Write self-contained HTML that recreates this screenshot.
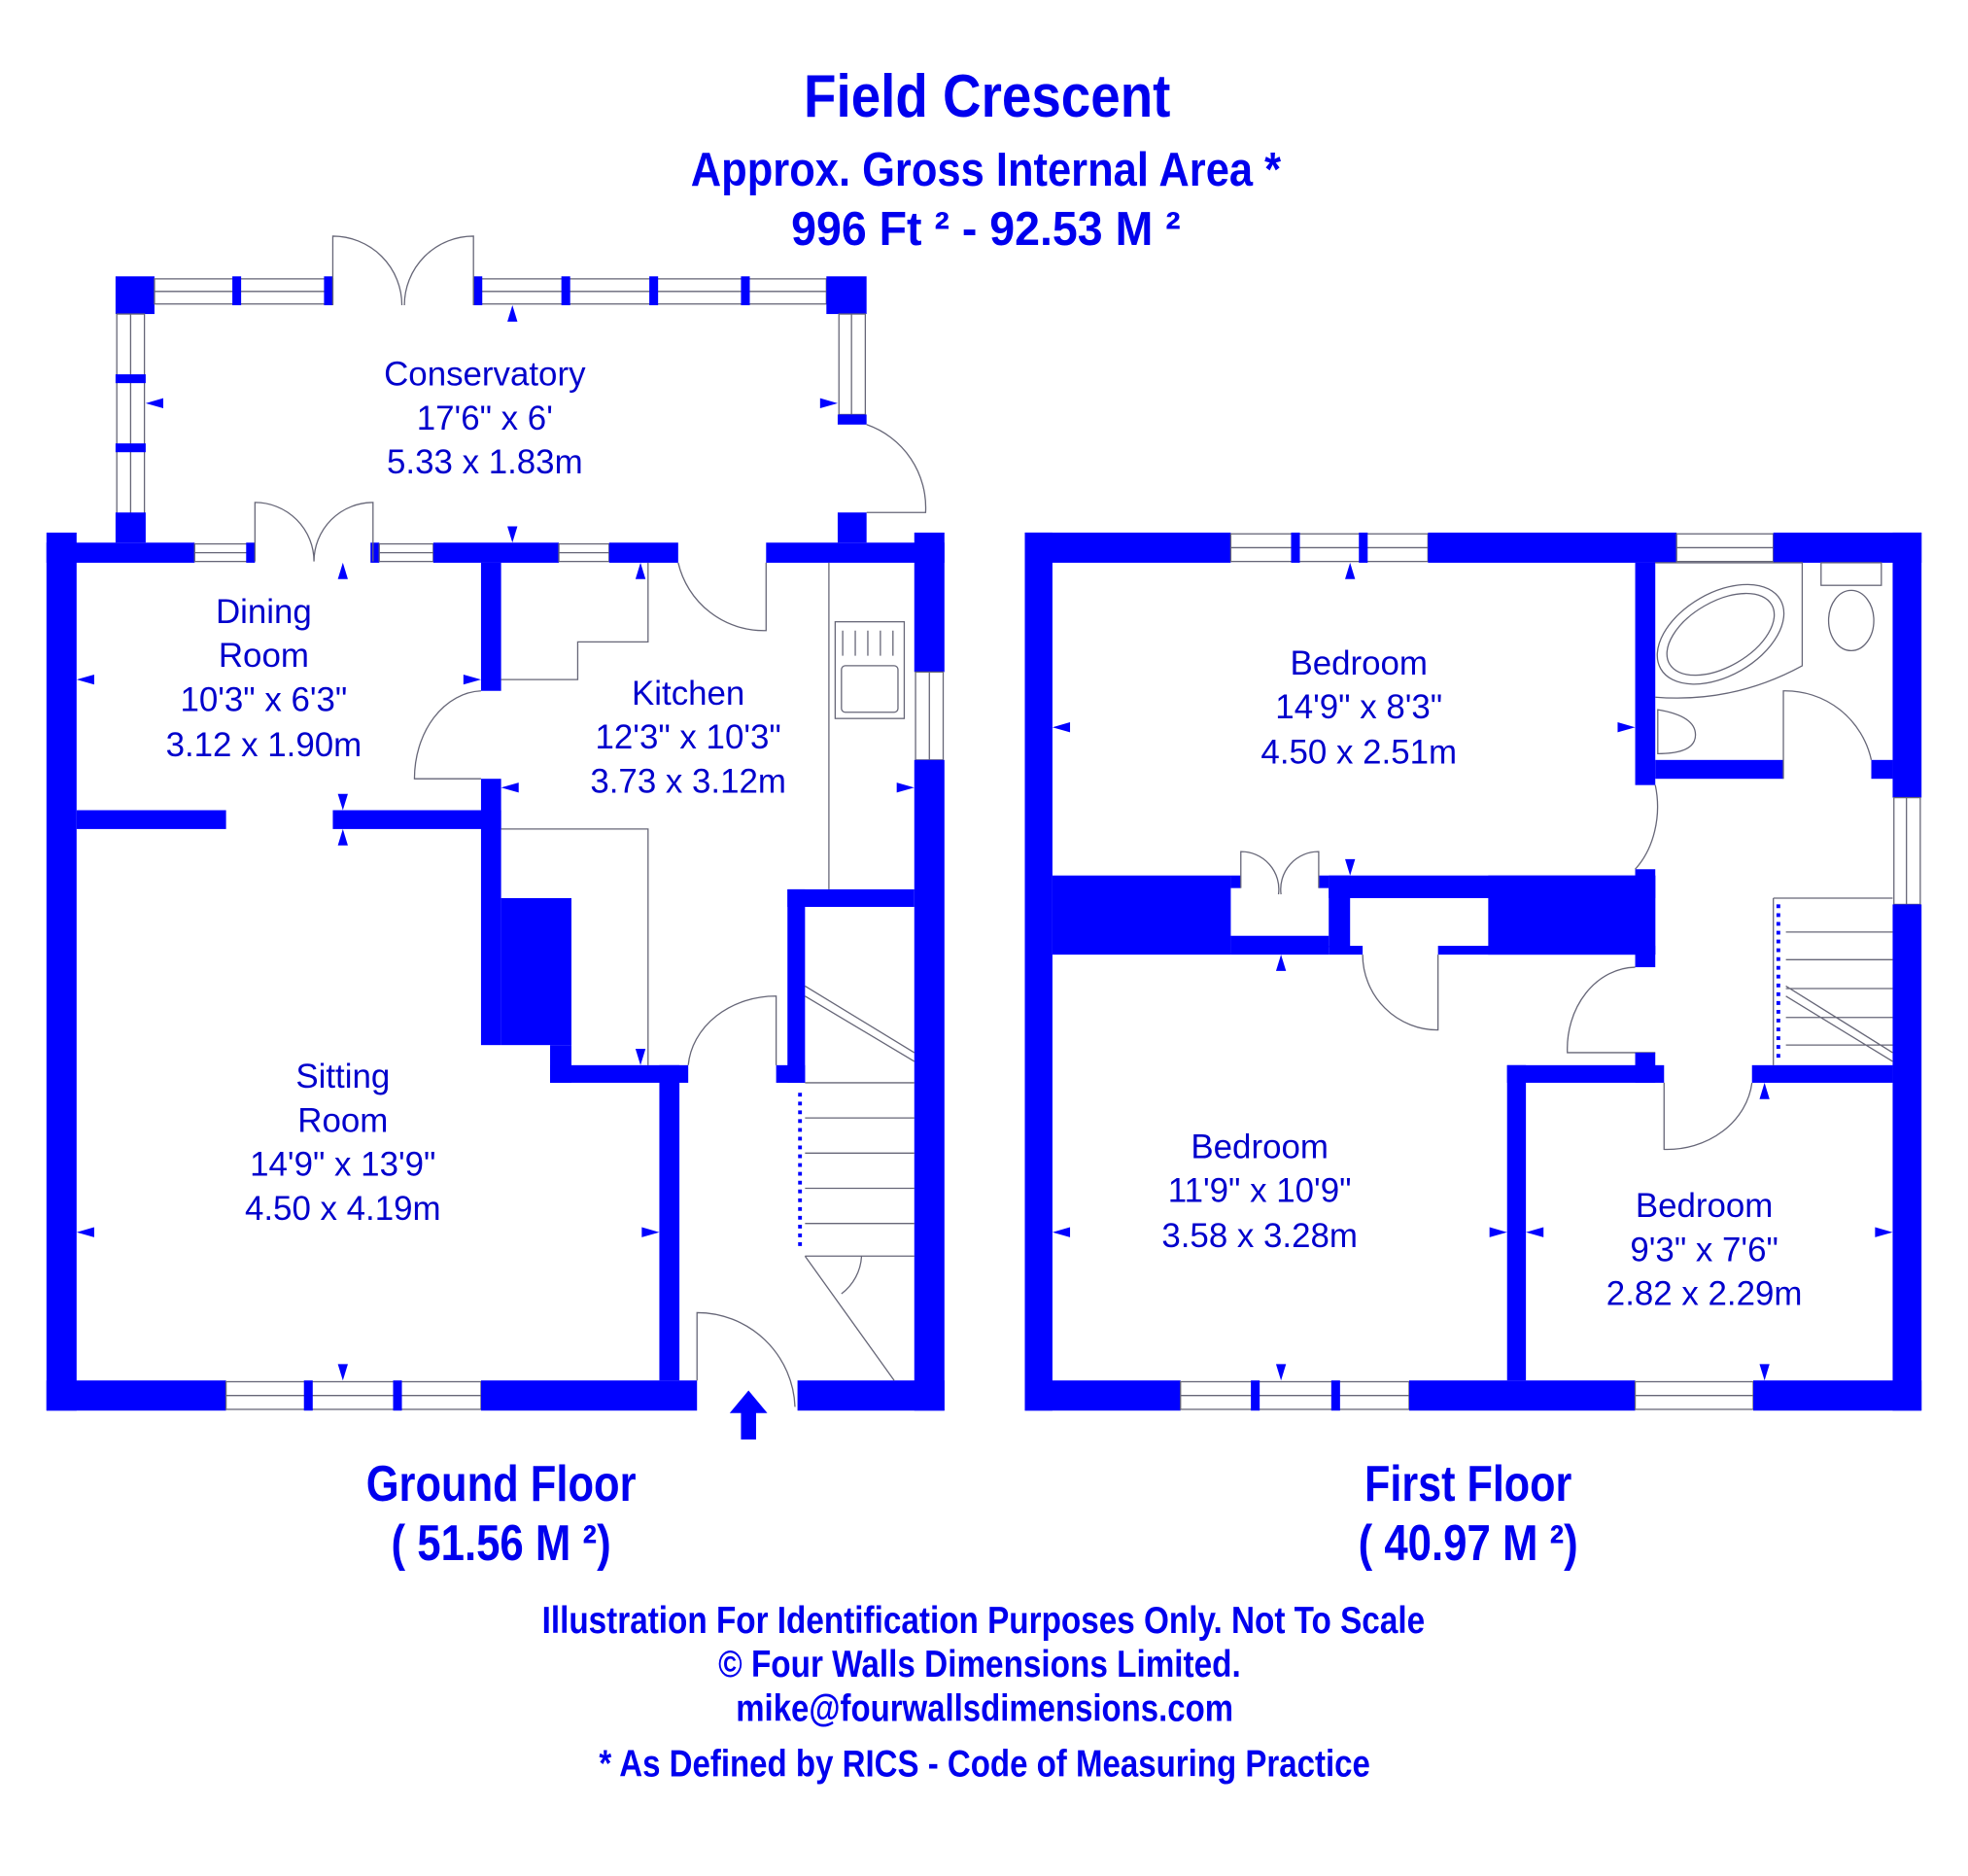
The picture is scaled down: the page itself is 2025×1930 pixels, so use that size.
<!DOCTYPE html>
<html><head><meta charset="utf-8"><style>
html,body{margin:0;padding:0;background:#fff;}
svg{display:block}
.t{font-family:"Liberation Sans Narrow","Liberation Sans",sans-serif;font-weight:bold;fill:#0000ee;text-anchor:middle}
.r{font-family:"Liberation Sans",sans-serif;fill:#0000cc;text-anchor:middle;font-size:27px}
.w{fill:#0000ff}
.l{fill:none;stroke:#667;stroke-width:1}
.win{fill:#fff;stroke:#667;stroke-width:1}
.a{fill:#0000ff}
</style></head><body>
<svg width="2025" height="1930" viewBox="0 0 1567 1493.5" preserveAspectRatio="none" xmlns="http://www.w3.org/2000/svg">
<!-- Titles -->
<text class="t" x="786" y="93" font-size="48" textLength="292" lengthAdjust="spacingAndGlyphs">Field Crescent</text>
<text class="t" x="785" y="148" font-size="38" textLength="470" lengthAdjust="spacingAndGlyphs">Approx. Gross Internal Area *</text>
<text class="t" x="785" y="195" font-size="38" textLength="310" lengthAdjust="spacingAndGlyphs">996 Ft ²  -  92.53 M ²</text>
<text class="t" x="399" y="1195" font-size="40" textLength="215" lengthAdjust="spacingAndGlyphs">Ground Floor</text>
<text class="t" x="399" y="1242" font-size="40" textLength="175" lengthAdjust="spacingAndGlyphs">( 51.56 M ²)</text>
<text class="t" x="1169" y="1195" font-size="40" textLength="165" lengthAdjust="spacingAndGlyphs">First Floor</text>
<text class="t" x="1169" y="1242" font-size="40" textLength="175" lengthAdjust="spacingAndGlyphs">( 40.97 M ²)</text>
<text class="t" x="783" y="1300" font-size="30" textLength="703" lengthAdjust="spacingAndGlyphs">Illustration For Identification Purposes Only. Not To Scale</text>
<text class="t" x="780" y="1335" font-size="30" textLength="416" lengthAdjust="spacingAndGlyphs">© Four Walls Dimensions Limited.</text>
<text class="t" x="784" y="1370" font-size="30" textLength="396" lengthAdjust="spacingAndGlyphs">mike@fourwallsdimensions.com</text>
<text class="t" x="784" y="1414" font-size="30" textLength="614" lengthAdjust="spacingAndGlyphs">* As Defined by RICS - Code of Measuring Practice</text>

<!-- GROUND FLOOR -->
<rect class="w" x="92" y="220" width="31" height="30"/>
<rect class="win" x="123" y="222" width="142" height="20"/>
<line class="l" x1="123" y1="232" x2="265" y2="232"/>
<rect class="w" x="185" y="220" width="7" height="23"/>
<rect class="w" x="258" y="220" width="7" height="23"/>
<rect class="win" x="377" y="222" width="281" height="20"/>
<line class="l" x1="377" y1="232" x2="658" y2="232"/>
<rect class="w" x="377" y="220" width="7" height="23"/>
<rect class="w" x="447" y="220" width="7" height="23"/>
<rect class="w" x="517" y="220" width="7" height="23"/>
<rect class="w" x="590" y="220" width="7" height="23"/>
<rect class="w" x="658" y="220" width="32" height="30"/>
<path class="l" d="M265 243 V188 A55 55 0 0 1 320 243 M377 243 V188 A55 55 0 0 0 322 243"/>
<rect class="win" x="93" y="250" width="22" height="170"/>
<line class="l" x1="104" y1="250" x2="104" y2="420"/>
<rect class="w" x="92" y="298" width="24" height="7"/>
<rect class="w" x="92" y="353" width="24" height="7"/>
<rect class="win" x="668" y="250" width="21" height="80"/>
<line class="l" x1="678" y1="250" x2="678" y2="330"/>
<rect class="w" x="667" y="330" width="23" height="8"/>
<path class="l" d="M690 338 A70 70 0 0 1 737 408 H690"/>
<rect class="w" x="92" y="408" width="24" height="24"/>
<rect class="w" x="667" y="408" width="23" height="24"/>
<rect class="w" x="37" y="424" width="24" height="699"/>
<rect class="w" x="37" y="432" width="118" height="16"/>
<rect class="win" x="155" y="433" width="45" height="14"/><line class="l" x1="155" y1="440" x2="200" y2="440"/>
<rect class="w" x="196" y="432" width="7" height="16"/>
<rect class="w" x="295" y="432" width="7" height="16"/>
<path class="l" d="M203 447 V400 A47 47 0 0 1 250 447 M297 447 V400 A47 47 0 0 0 250 447"/>
<rect class="win" x="302" y="433" width="43" height="14"/><line class="l" x1="302" y1="440" x2="345" y2="440"/>
<rect class="w" x="345" y="432" width="100" height="16"/>
<rect class="win" x="445" y="433" width="40" height="14"/><line class="l" x1="445" y1="440" x2="485" y2="440"/>
<rect class="w" x="485" y="432" width="55" height="16"/>
<path class="l" d="M540 448 A70 70 0 0 0 610 502 V448"/>
<rect class="w" x="610" y="432" width="142" height="16"/>
<rect class="w" x="728" y="424" width="24" height="111"/>
<rect class="win" x="729" y="535" width="22" height="70"/><line class="l" x1="740" y1="535" x2="740" y2="605"/>
<rect class="w" x="728" y="605" width="24" height="518"/>
<rect class="w" x="37" y="1099" width="143" height="24"/>
<rect class="win" x="180" y="1100" width="203" height="22"/><line class="l" x1="180" y1="1111" x2="383" y2="1111"/>
<rect class="w" x="242" y="1099" width="7" height="24"/>
<rect class="w" x="313" y="1099" width="7" height="24"/>
<rect class="w" x="383" y="1099" width="172" height="24"/>
<path class="l" d="M555 1099 V1045 A78 78 0 0 1 633 1120"/>
<rect class="w" x="635" y="1099" width="117" height="24"/>
<polygon class="a" points="596,1107 611,1125 602,1125 602,1146 590,1146 590,1125 581,1125"/>
<rect class="w" x="383" y="448" width="16" height="102"/>
<path class="l" d="M383 550 A55 70 0 0 0 330 620 H383"/>
<path class="l" d="M399 541 H460 V511 H516 V448"/>
<rect class="w" x="383" y="620" width="16" height="212"/>
<rect class="w" x="61" y="645" width="119" height="15"/>
<rect class="w" x="265" y="645" width="134" height="15"/>
<rect class="w" x="399" y="715" width="56" height="117"/>
<rect class="w" x="438" y="832" width="17" height="30"/>
<rect class="w" x="438" y="848" width="110" height="14"/>
<rect class="w" x="525" y="848" width="16" height="251"/>
<path class="l" d="M399 660 H516 V848 M660 448 V708"/>
<path class="l" d="M548 848 A70 60 0 0 1 618 793 V848"/>
<rect class="w" x="627" y="708" width="101" height="14"/>
<rect class="w" x="627" y="708" width="14" height="154"/>
<rect class="w" x="618" y="848" width="23" height="14"/>
<rect class="l" x="665" y="495" width="55" height="77"/>
<path class="l" d="M671 502 V522 M681 502 V522 M691 502 V522 M701 502 V522 M711 502 V522"/>
<rect class="l" x="670" y="530" width="45" height="37" rx="3"/>
<path class="l" d="M641 785 L728 838 M641 793 L728 845 M641 862 H728 M641 890 H728 M641 918 H728 M641 946 H728 M641 974 H728 M641 1000 H728 M641 1000 L712 1099 M686 1000 A40 40 0 0 1 670 1030"/>
<path d="M637 870 V995" stroke="#0000ff" stroke-width="3" stroke-dasharray="3 4"/>
<polygon class="a" points="61,541 75,537 75,545"/><polygon class="a" points="383,541 369,537 369,545"/>
<polygon class="a" points="273,448 269,461 277,461"/><polygon class="a" points="273,645 269,632 277,632"/>
<polygon class="a" points="273,660 269,673 277,673"/><polygon class="a" points="273,1099 269,1086 277,1086"/>
<polygon class="a" points="61,981 75,977 75,985"/><polygon class="a" points="525,981 511,977 511,985"/>
<polygon class="a" points="399,627 413,623 413,631"/><polygon class="a" points="728,627 714,623 714,631"/>
<polygon class="a" points="510,448 506,461 514,461"/><polygon class="a" points="510,848 506,835 514,835"/>
<polygon class="a" points="116,321 130,317 130,325"/><polygon class="a" points="667,321 653,317 653,325"/>
<polygon class="a" points="408,243 404,256 412,256"/><polygon class="a" points="408,432 404,419 412,419"/>
<text class="r" x="386" y="307">Conservatory</text><text class="r" x="386" y="342">17'6" x 6'</text><text class="r" x="386" y="377">5.33 x 1.83m</text>
<text class="r" x="210" y="496">Dining</text><text class="r" x="210" y="531">Room</text><text class="r" x="210" y="566">10'3" x 6'3"</text><text class="r" x="210" y="602">3.12 x 1.90m</text>
<text class="r" x="548" y="561">Kitchen</text><text class="r" x="548" y="596">12'3" x 10'3"</text><text class="r" x="548" y="631">3.73 x 3.12m</text>
<text class="r" x="273" y="866">Sitting</text><text class="r" x="273" y="901">Room</text><text class="r" x="273" y="936">14'9" x 13'9"</text><text class="r" x="273" y="971">4.50 x 4.19m</text>

<!-- FIRST FLOOR -->
<rect class="w" x="816" y="424" width="22" height="699"/>
<rect class="w" x="816" y="424" width="164" height="24"/>
<rect class="win" x="980" y="425" width="157" height="22"/><line class="l" x1="980" y1="436" x2="1137" y2="436"/>
<rect class="w" x="1028" y="424" width="7" height="24"/><rect class="w" x="1082" y="424" width="7" height="24"/>
<rect class="w" x="1137" y="424" width="198" height="24"/>
<rect class="win" x="1335" y="425" width="77" height="22"/><line class="l" x1="1335" y1="436" x2="1412" y2="436"/>
<rect class="w" x="1412" y="424" width="118" height="24"/>
<rect class="w" x="1507" y="424" width="23" height="211"/>
<rect class="win" x="1508" y="635" width="21" height="85"/><line class="l" x1="1518" y1="635" x2="1518" y2="720"/>
<rect class="w" x="1507" y="720" width="23" height="403"/>
<rect class="w" x="816" y="1099" width="124" height="24"/>
<rect class="win" x="940" y="1100" width="182" height="22"/><line class="l" x1="940" y1="1111" x2="1122" y2="1111"/>
<rect class="w" x="996" y="1099" width="7" height="24"/><rect class="w" x="1060" y="1099" width="7" height="24"/>
<rect class="w" x="1122" y="1099" width="180" height="24"/>
<rect class="win" x="1302" y="1100" width="94" height="22"/><line class="l" x1="1302" y1="1111" x2="1396" y2="1111"/>
<rect class="w" x="1396" y="1099" width="134" height="24"/>
<rect class="w" x="838" y="697" width="142" height="63"/>
<rect class="w" x="980" y="745" width="78" height="15"/>
<rect class="w" x="980" y="697" width="8" height="10"/>
<rect class="w" x="1050" y="697" width="8" height="10"/>
<rect class="w" x="1058" y="697" width="260" height="18"/>
<rect class="w" x="1058" y="697" width="17" height="57"/>
<rect class="w" x="1185" y="697" width="133" height="63"/>
<rect class="w" x="1145" y="753" width="173" height="7"/>
<rect class="w" x="1058" y="753" width="27" height="7"/>
<path class="l" d="M988 707 V678 A30 30 0 0 1 1018 712 M1050 707 V678 A30 30 0 0 0 1020 712"/>
<path class="l" d="M1085 760 A60 60 0 0 0 1145 820 V760"/>
<rect class="w" x="1302" y="448" width="16" height="177"/>
<rect class="w" x="1318" y="605" width="102" height="15"/>
<rect class="w" x="1490" y="605" width="17" height="15"/>
<path class="l" d="M1420 620 V550 A70 70 0 0 1 1490 605"/>
<path class="l" d="M1318 625 A50 65 0 0 1 1302 692"/>
<rect class="w" x="1302" y="692" width="16" height="78"/>
<path class="l" d="M1302 770 A55 65 0 0 0 1248 838 H1318"/>
<rect class="w" x="1200" y="848" width="125" height="14"/>
<rect class="w" x="1302" y="838" width="16" height="24"/>
<rect class="w" x="1395" y="848" width="112" height="14"/>
<rect class="w" x="1200" y="848" width="15" height="251"/>
<path class="l" d="M1325 862 V915 A68 60 0 0 0 1395 862"/>
<path class="l" d="M1412 715 H1507 M1422 742 H1507 M1422 764 H1507 M1422 787 H1507 M1422 810 H1507 M1422 832 H1507 M1422 785 L1507 838 M1422 793 L1507 845 M1412 715 V848"/>
<path d="M1416 720 V845" stroke="#0000ff" stroke-width="3" stroke-dasharray="3 4"/>
<ellipse class="l" cx="1370" cy="505" rx="55" ry="33" transform="rotate(-30 1370 505)"/>
<ellipse class="l" cx="1370" cy="505" rx="47" ry="26" transform="rotate(-30 1370 505)"/>
<path class="l" d="M1318 448 H1435 V530 Q1380 560 1318 555"/>
<rect class="l" x="1450" y="448" width="48" height="18"/>
<ellipse class="l" cx="1474" cy="494" rx="18" ry="24"/>
<path class="l" d="M1320 565 Q1350 570 1350 585 Q1350 600 1320 600 Z"/>
<polygon class="a" points="838,579 852,575 852,583"/><polygon class="a" points="1302,579 1288,575 1288,583"/>
<polygon class="a" points="1075,448 1071,461 1079,461"/><polygon class="a" points="1075,697 1071,684 1079,684"/>
<polygon class="a" points="1020,760 1016,773 1024,773"/><polygon class="a" points="1020,1099 1016,1086 1024,1086"/>
<polygon class="a" points="838,981 852,977 852,985"/><polygon class="a" points="1200,981 1186,977 1186,985"/>
<polygon class="a" points="1215,981 1229,977 1229,985"/><polygon class="a" points="1507,981 1493,977 1493,985"/>
<polygon class="a" points="1405,862 1401,875 1409,875"/><polygon class="a" points="1405,1099 1401,1086 1409,1086"/>
<text class="r" x="1082" y="537">Bedroom</text><text class="r" x="1082" y="572">14'9" x 8'3"</text><text class="r" x="1082" y="608">4.50 x 2.51m</text>
<text class="r" x="1003" y="922">Bedroom</text><text class="r" x="1003" y="957">11'9" x 10'9"</text><text class="r" x="1003" y="993">3.58 x 3.28m</text>
<text class="r" x="1357" y="969">Bedroom</text><text class="r" x="1357" y="1004">9'3" x 7'6"</text><text class="r" x="1357" y="1039">2.82 x 2.29m</text>
</svg>
</body></html>
